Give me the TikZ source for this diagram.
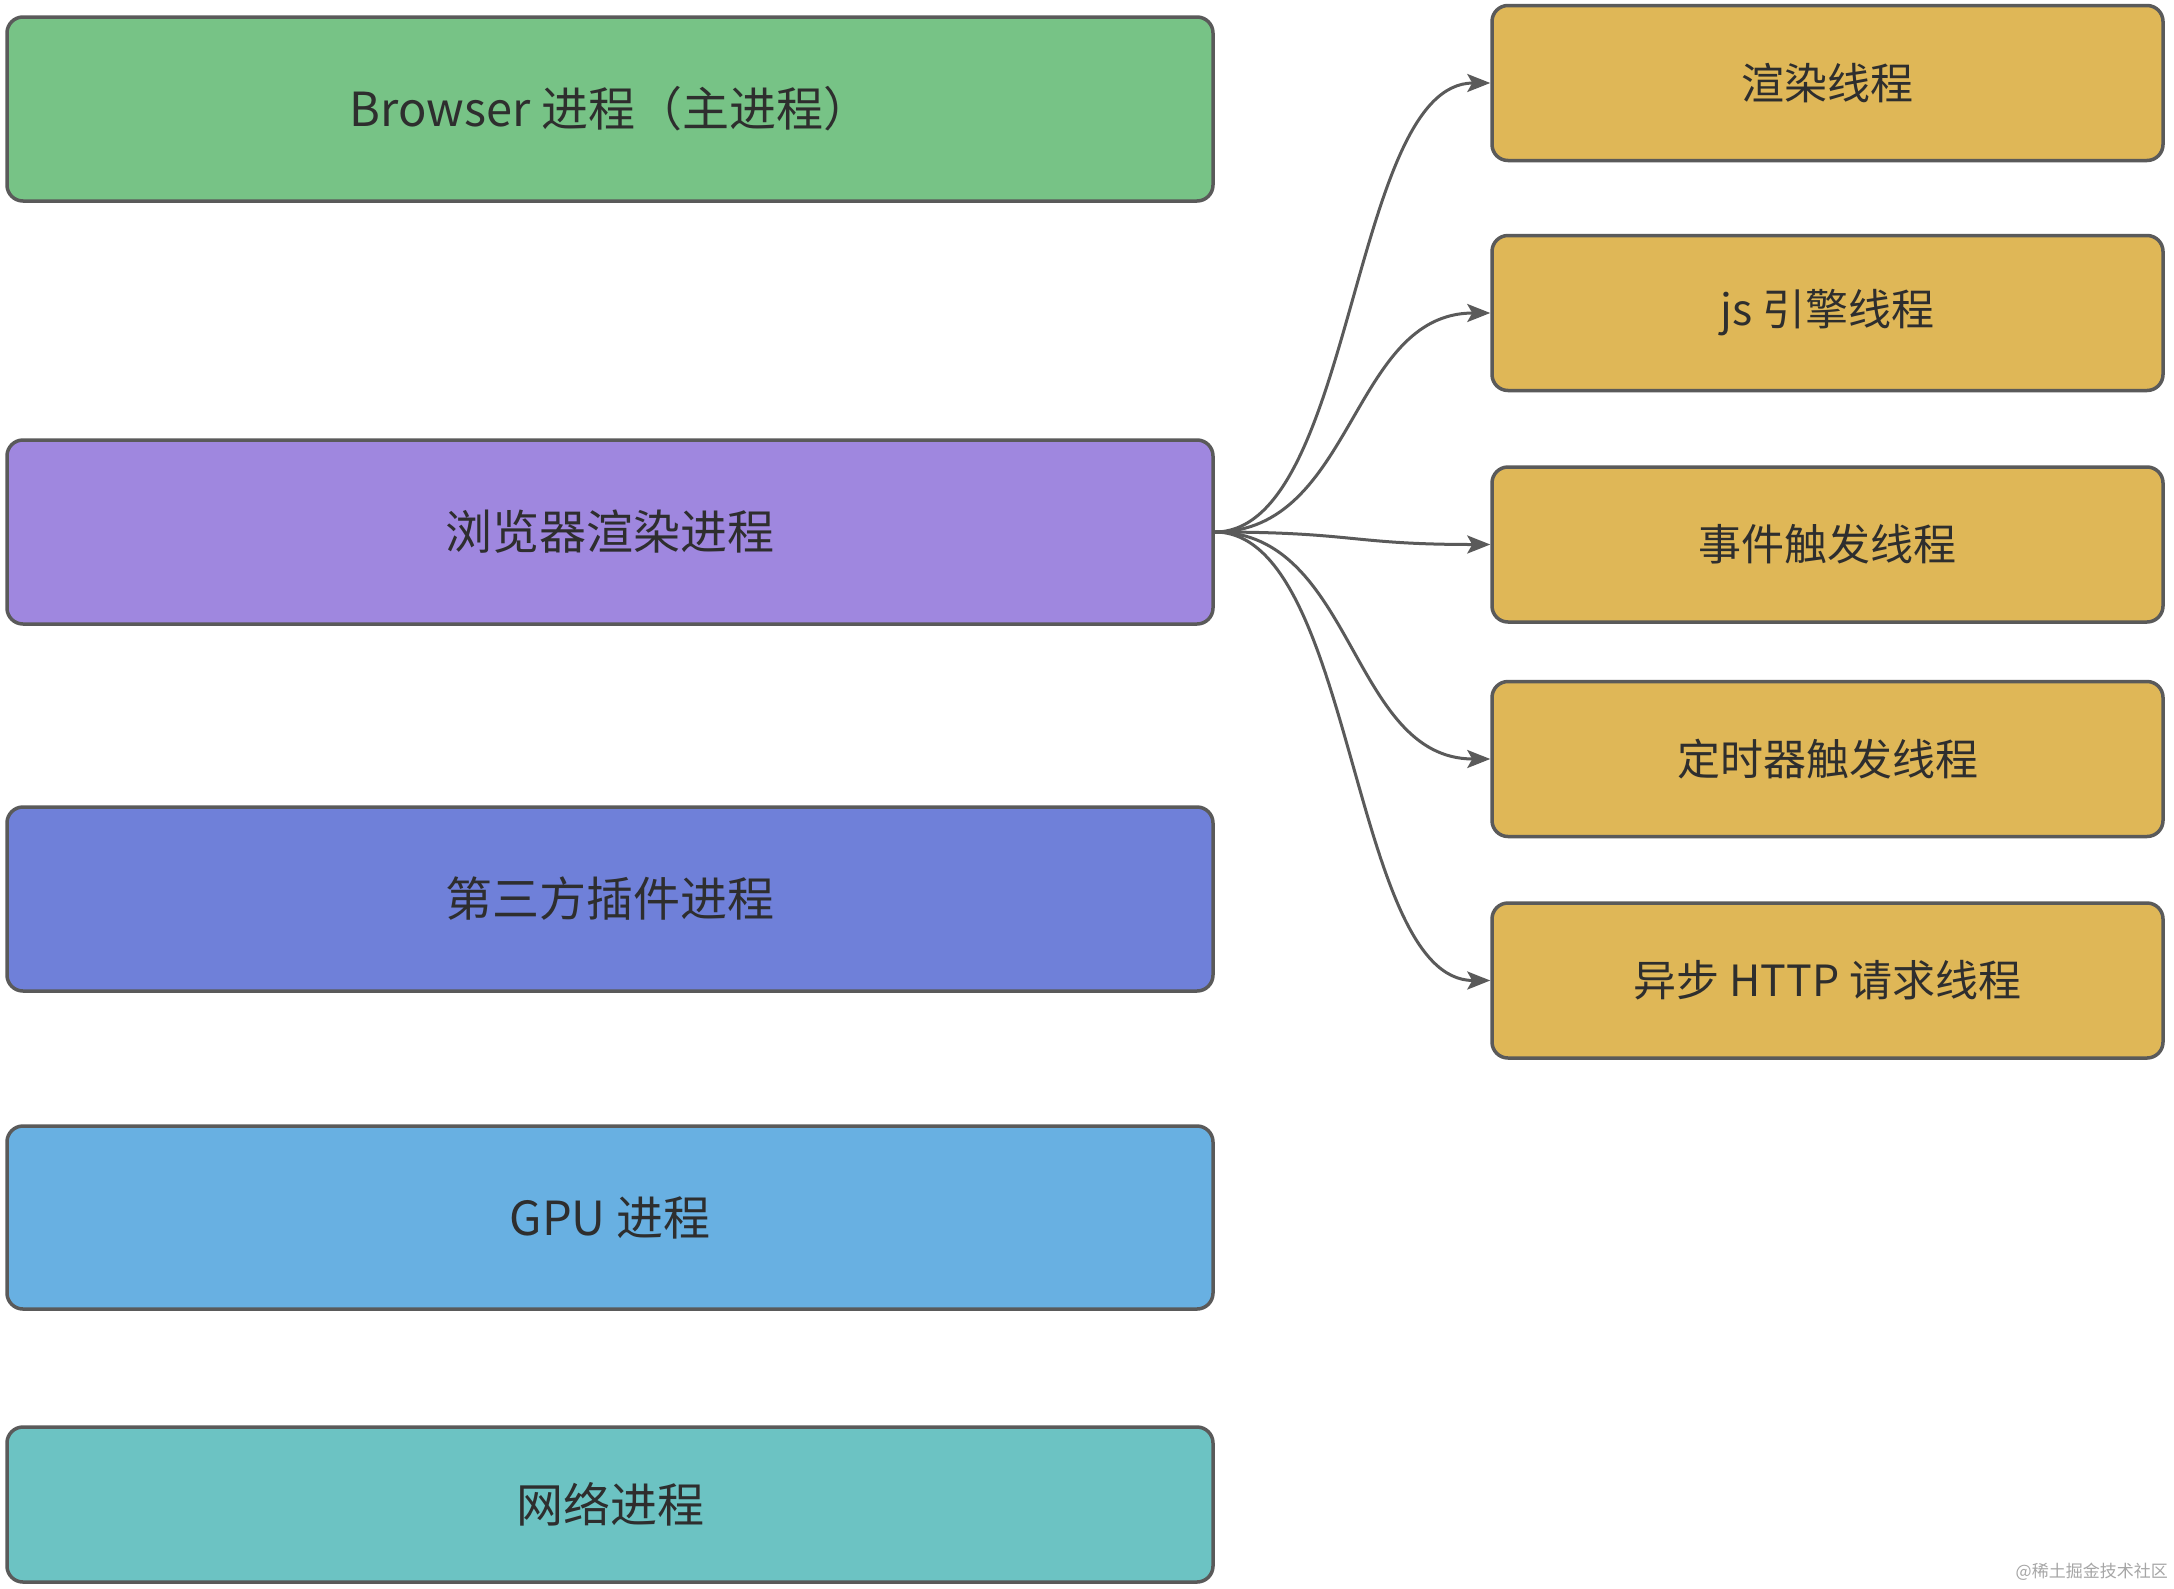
\documentclass[tikz,border=0pt]{standalone}
\usepackage{fontspec}
\setmainfont{Noto Sans CJK SC}
\usetikzlibrary{arrows.meta}
\definecolor{cgreen}{HTML}{77C386}
\definecolor{cpurple}{HTML}{9F87DF}
\definecolor{cblue}{HTML}{6F80D9}
\definecolor{clblue}{HTML}{68B0E2}
\definecolor{cteal}{HTML}{6CC3C3}
\definecolor{cgold}{HTML}{DFB757}
\definecolor{cborder}{HTML}{5A5A5A}
\definecolor{ctext}{HTML}{2E2E2E}
\tikzset{
  procbox/.style={draw=cborder, line width=3.5pt, rounded corners=16pt, rectangle,
    minimum width=1206pt, inner sep=0pt, text=ctext, font=\fontsize{47}{56}\selectfont},
  thrbox/.style={draw=cborder, line width=3.5pt, rounded corners=16pt, rectangle, fill=cgold,
    minimum width=671pt, minimum height=155pt, inner sep=0pt, text=ctext, font=\fontsize{43}{52}\selectfont},
  conn/.style={draw=cborder, line width=3pt, -{Stealth[length=23pt,width=18pt,inset=5pt]}}
}
\begin{document}
\begin{tikzpicture}[x=1pt,y=-1pt]
\useasboundingbox (0,0) rectangle (2174,1588);
\fill[white] (0,0) rectangle (2174,1588);
\node[procbox, fill=cgreen, minimum height=184pt] (b) at (610,109) {Browser 进程（主进程）};
\node[procbox, fill=cpurple, minimum height=184pt] (r) at (610,532) {浏览器渲染进程};
\node[procbox, fill=cblue, minimum height=184pt] (p) at (610,899) {第三方插件进程};
\node[procbox, fill=clblue, minimum height=183pt] (g) at (610,1217.5) {GPU 进程};
\node[procbox, fill=cteal, minimum height=155pt] (n) at (610,1504.5) {网络进程};
\node[thrbox] (t1) at (1827.5,83) {渲染线程};
\node[thrbox] (t2) at (1827.5,313) {js 引擎线程};
\node[thrbox] (t3) at (1827.5,544.5) {事件触发线程};
\node[thrbox] (t4) at (1827.5,759) {定时器触发线程};
\node[thrbox] (t5) at (1827.5,980.5) {异步 HTTP 请求线程};
\foreach \t in {t1,t2,t3,t4,t5}{
  \draw[conn] (r.east) .. controls +(140,0) and +(-140,0) .. (\t.west);
}
\node[anchor=east, text=black!35, font=\fontsize{17}{20}\selectfont, inner sep=0pt] (wm) at (2168,1572) {@稀土掘金技术社区};
\end{tikzpicture}
\end{document}
